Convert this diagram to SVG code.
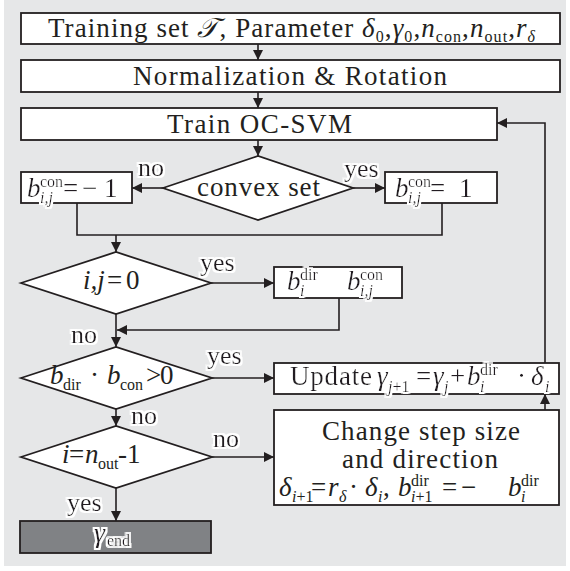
<svg xmlns="http://www.w3.org/2000/svg" width="570" height="571" viewBox="0 0 570 571">
<defs>
<marker id="ah" markerUnits="userSpaceOnUse" markerWidth="11" markerHeight="10" refX="10" refY="5" orient="auto">
<path d="M0,0 L10,5 L0,10 z" fill="#231f20" stroke="none"/>
</marker>
<filter id="halo" x="-20%" y="-20%" width="140%" height="140%">
<feMorphology in="SourceAlpha" operator="dilate" radius="1.6" result="d"/>
<feFlood flood-color="#ffffff"/>
<feComposite in2="d" operator="in" result="w"/>
<feMerge><feMergeNode in="w"/><feMergeNode in="SourceGraphic"/></feMerge>
</filter>
</defs>
<rect x="4" y="0" width="562" height="566" fill="#e6e7e8"/>

<g id="connectors" fill="none" stroke="#231f20" stroke-width="1.6">
<path marker-end="url(#ah)" d="M258,44 V60"/>
<path marker-end="url(#ah)" d="M258,92 V108"/>
<path marker-end="url(#ah)" d="M258,140 V156"/>
<path marker-end="url(#ah)" d="M163,188 H132"/>
<path marker-end="url(#ah)" d="M353,188 H385"/>
<path d="M77,203 V235 H442 V203"/>
<path marker-end="url(#ah)" d="M116,235 V252"/>
<path marker-end="url(#ah)" d="M211,283 H274"/>
<path marker-end="url(#ah)" d="M339,298 V330 H117"/>
<path marker-end="url(#ah)" d="M116,314 V347"/>
<path marker-end="url(#ah)" d="M212,378 H274"/>
<path marker-end="url(#ah)" d="M116,409 V426"/>
<path marker-end="url(#ah)" d="M212,457 H274"/>
<path marker-end="url(#ah)" d="M116,488 V521"/>
<path marker-end="url(#ah)" d="M545,410 V394"/>
<path marker-end="url(#ah)" d="M545,363 V123 H497"/>
</g>
<g id="labels" font-family="Liberation Serif, serif" font-size="26" fill="#231f20" filter="url(#halo)">
<text font-family="Liberation Serif, serif" x="138" y="176">no</text>
<text font-family="Liberation Serif, serif" x="344" y="177">yes</text>
<text font-family="Liberation Serif, serif" x="200" y="271">yes</text>
<text font-family="Liberation Serif, serif" x="71" y="343">no</text>
<text font-family="Liberation Serif, serif" x="207" y="364">yes</text>
<text font-family="Liberation Serif, serif" x="131" y="424">no</text>
<text font-family="Liberation Serif, serif" x="213" y="447">no</text>
<text font-family="Liberation Serif, serif" x="67" y="511">yes</text>
</g>

<g id="input">
<rect x="21" y="13" width="539" height="31" fill="#fff" stroke="#231f20" stroke-width="1.8"/>
<text font-family="Liberation Serif, serif" font-size="27" fill="#231f20" x="48" y="37" textLength="487" lengthAdjust="spacing">Training set <tspan font-style="italic">𝒯</tspan>, Parameter <tspan font-style="italic">δ</tspan><tspan font-size="16" dy="5">0</tspan><tspan dy="-5">,</tspan><tspan font-style="italic">γ</tspan><tspan font-size="16" dy="5">0</tspan><tspan dy="-5">,</tspan><tspan font-style="italic">n</tspan><tspan font-size="16" dy="5">con</tspan><tspan dy="-5">,</tspan><tspan font-style="italic">n</tspan><tspan font-size="16" dy="5">out</tspan><tspan dy="-5">,</tspan><tspan font-style="italic">r</tspan><tspan font-size="16" font-style="italic" dy="5">δ</tspan></text>
</g>

<g id="normalization">
<rect x="21" y="60" width="539" height="32" fill="#fff" stroke="#231f20" stroke-width="1.8"/>
<text font-family="Liberation Serif, serif" font-size="27" fill="#231f20" x="133" y="85" textLength="314" lengthAdjust="spacing">Normalization &amp; Rotation</text>
</g>

<g id="train">
<rect x="21" y="108" width="476" height="32" fill="#fff" stroke="#231f20" stroke-width="1.8"/>
<text font-family="Liberation Serif, serif" font-size="27" fill="#231f20" x="167" y="133" textLength="185" lengthAdjust="spacing">Train OC-SVM</text>
</g>

<g id="convex">
<polygon points="163,188 258,156 353,188 258,220" fill="#fff" stroke="#231f20" stroke-width="1.8"/>
<text font-family="Liberation Serif, serif" font-size="27" fill="#231f20" x="197" y="196" textLength="123" lengthAdjust="spacing">convex set</text>
</g>

<g id="bcon-neg">
<rect x="21" y="172" width="111" height="31" fill="#fff" stroke="#231f20" stroke-width="1.8"/>
<text font-family="Liberation Serif, serif" font-size="27" fill="#231f20" filter="url(#halo)" y="197"><tspan font-style="italic" x="27">b</tspan><tspan font-size="16" x="40" y="187">con</tspan><tspan font-size="16" font-style="italic" x="40" y="203">i,j</tspan><tspan x="63" y="197">=</tspan><tspan x="82">−</tspan><tspan x="104">1</tspan></text>
</g>

<g id="bcon-pos">
<rect x="385" y="172" width="112" height="31" fill="#fff" stroke="#231f20" stroke-width="1.8"/>
<text font-family="Liberation Serif, serif" font-size="27" fill="#231f20" filter="url(#halo)" y="197"><tspan font-style="italic" x="395">b</tspan><tspan font-size="16" x="408" y="187">con</tspan><tspan font-size="16" font-style="italic" x="408" y="203">i,j</tspan><tspan x="430" y="197">=</tspan><tspan x="459">1</tspan></text>
</g>

<g id="ij0">
<polygon points="21,283 116,252 211,283 116,314" fill="#fff" stroke="#231f20" stroke-width="1.8"/>
<text font-family="Liberation Serif, serif" font-size="27" fill="#231f20" y="289"><tspan font-style="italic" x="83">i,j</tspan><tspan x="107">=</tspan><tspan x="126">0</tspan></text>
</g>

<g id="bdir-bcon">
<rect x="274" y="267" width="128" height="31" fill="#fff" stroke="#231f20" stroke-width="1.8"/>
<text font-family="Liberation Serif, serif" font-size="27" fill="#231f20" filter="url(#halo)" y="290"><tspan font-style="italic" x="287">b</tspan><tspan font-size="16" x="300" y="280">dir</tspan><tspan font-size="16" font-style="italic" x="300" y="296">i</tspan><tspan font-style="italic" x="347" y="290">b</tspan><tspan font-size="16" x="360" y="280">con</tspan><tspan font-size="16" font-style="italic" x="360" y="296">i,j</tspan></text>
</g>

<g id="product">
<polygon points="21,378 116,347 212,378 116,409" fill="#fff" stroke="#231f20" stroke-width="1.8"/>
<text font-family="Liberation Serif, serif" font-size="27" fill="#231f20" y="384"><tspan font-style="italic" x="50">b</tspan><tspan font-size="16" x="63" y="390">dir</tspan><tspan x="90" y="384">·</tspan><tspan font-style="italic" x="107">b</tspan><tspan font-size="16" x="120" y="390">con</tspan><tspan x="146" y="384">&gt;</tspan><tspan x="160">0</tspan></text>
</g>

<g id="update">
<rect x="274" y="363" width="285" height="31" fill="#fff" stroke="#231f20" stroke-width="1.8"/>
<text font-family="Liberation Serif, serif" font-size="27" fill="#231f20" filter="url(#halo)" y="385"><tspan x="290" textLength="82" lengthAdjust="spacing">Update</tspan><tspan font-style="italic" x="377">γ</tspan><tspan font-size="16" x="388" y="392"><tspan font-style="italic">j</tspan>+1</tspan><tspan x="416" y="385">=</tspan><tspan font-style="italic" x="433">γ</tspan><tspan font-size="16" font-style="italic" x="444" y="392">j</tspan><tspan x="450" y="385">+</tspan><tspan font-style="italic" x="467">b</tspan><tspan font-size="16" x="480" y="375">dir</tspan><tspan font-size="16" font-style="italic" x="480" y="392">i</tspan><tspan x="517" y="385">·</tspan><tspan font-style="italic" x="531">δ</tspan><tspan font-size="16" font-style="italic" x="545" y="392">i</tspan></text>
</g>

<g id="nout">
<polygon points="21,457 116,426 212,457 116,488" fill="#fff" stroke="#231f20" stroke-width="1.8"/>
<text font-family="Liberation Serif, serif" font-size="27" fill="#231f20" y="463"><tspan font-style="italic" x="62">i</tspan><tspan x="69">=</tspan><tspan font-style="italic" x="85">n</tspan><tspan font-size="16" x="98" y="469">out</tspan><tspan x="118" y="463">-</tspan><tspan x="127">1</tspan></text>
</g>

<g id="change">
<rect x="274" y="410" width="285" height="95" fill="#fff" stroke="#231f20" stroke-width="1.8"/>
<text font-family="Liberation Serif, serif" font-size="27" fill="#231f20" x="322" y="440" textLength="198" lengthAdjust="spacing">Change step size</text>
<text font-family="Liberation Serif, serif" font-size="27" fill="#231f20" x="342" y="468" textLength="156" lengthAdjust="spacing">and direction</text>
<text font-family="Liberation Serif, serif" font-size="27" fill="#231f20" y="496"><tspan font-style="italic" x="279">δ</tspan><tspan font-size="16" x="292" y="502"><tspan font-style="italic">i</tspan>+1</tspan><tspan x="311" y="496">=</tspan><tspan font-style="italic" x="328">r</tspan><tspan font-size="16" font-style="italic" x="339" y="502">δ</tspan><tspan x="349" y="496">·</tspan><tspan font-style="italic" x="365">δ</tspan><tspan font-size="16" font-style="italic" x="378" y="502">i</tspan><tspan x="383" y="496">,</tspan><tspan font-style="italic" x="398">b</tspan><tspan font-size="16" x="411" y="486">dir</tspan><tspan font-size="16" x="411" y="502"><tspan font-style="italic">i</tspan>+1</tspan><tspan x="442" y="496">=</tspan><tspan x="461">−</tspan><tspan font-style="italic" x="508">b</tspan><tspan font-size="16" x="521" y="486">dir</tspan><tspan font-size="16" font-style="italic" x="521" y="502">i</tspan></text>
</g>

<g id="end">
<rect x="20" y="521" width="191" height="32" fill="#808285" stroke="#231f20" stroke-width="1.8"/>
<text font-family="Liberation Serif, serif" font-size="28" fill="#231f20" filter="url(#halo)" y="542"><tspan font-style="italic" x="94">γ</tspan><tspan font-size="16" x="107" y="546">end</tspan></text>
</g>
</svg>
